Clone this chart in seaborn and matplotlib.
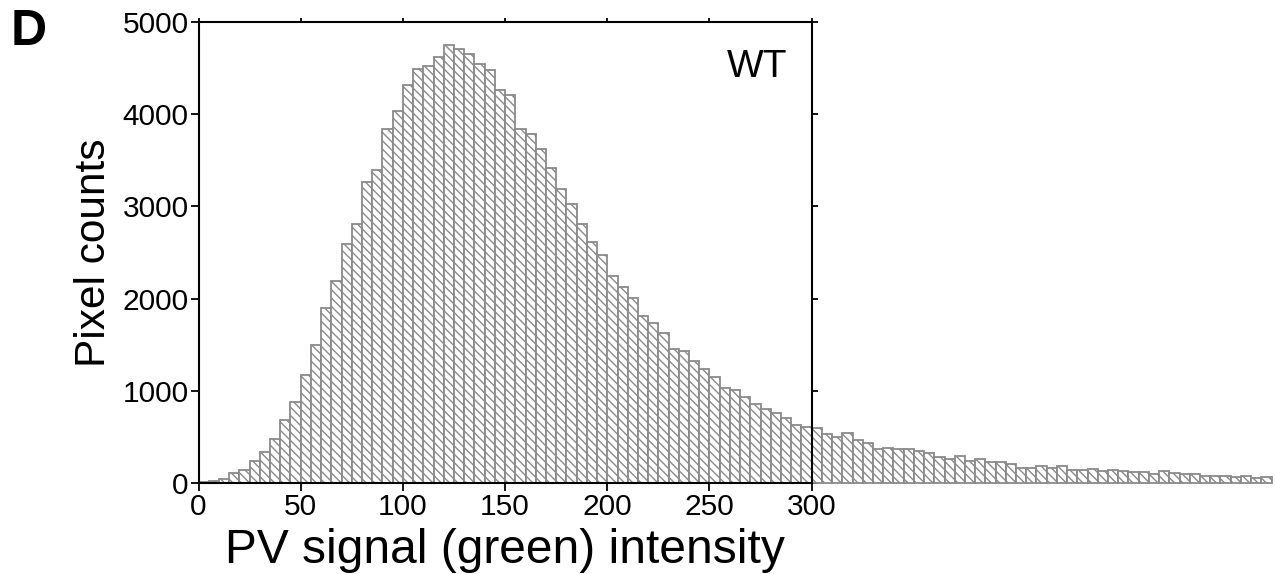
import numpy as np
import pandas as pd
import matplotlib
matplotlib.use("Agg")
import matplotlib.pyplot as plt
import seaborn as sns

# Bin left edges (intensity), bin width 5
bin_width = 5
counts = [
    15, 20, 47, 112, 145, 239, 340, 481, 680, 882,            # 0-45
    1175, 1497, 1895, 2194, 2589, 2806, 3265, 3391, 3836, 4035,  # 50-95
    4317, 4494, 4526, 4624, 4754, 4703, 4653, 4544, 4483, 4259,  # 100-145
    4205, 3836, 3789, 3619, 3413, 3192, 3029, 2812, 2617, 2476,  # 150-195
    2248, 2129, 2007, 1815, 1732, 1624, 1457, 1432, 1327, 1233,  # 200-245
    1153, 1030, 1005, 936, 853, 799, 756, 709, 626, 611,         # 250-295
    593, 537, 500, 539, 466, 430, 372, 383, 365, 365,            # 300-345
    343, 325, 278, 260, 296, 242, 260, 231, 224, 210,            # 350-395
    166, 163, 188, 166, 181, 145, 141, 155, 130, 137,            # 400-445
    127, 123, 119, 94, 127, 105, 101, 94, 72, 76,                # 450-495
    80, 69, 80, 58, 65,                                          # 500-520
]
bin_left = [i * bin_width for i in range(len(counts))]
bin_center = [b + bin_width / 2 for b in bin_left]
bin_edges = bin_left + [bin_left[-1] + bin_width]

x_ticks = [0, 50, 100, 150, 200, 250, 300]
y_ticks = [0, 1000, 2000, 3000, 4000, 5000]

df = pd.DataFrame({"intensity": bin_center, "count": counts})

sns.set_theme(style="ticks")
plt.rcParams["font.family"] = ["Liberation Sans", "DejaVu Sans"]
plt.rcParams["hatch.linewidth"] = 1.0
plt.rcParams["text.color"] = "black"
plt.rcParams["axes.labelcolor"] = "black"
plt.rcParams["xtick.color"] = "black"
plt.rcParams["ytick.color"] = "black"

fig = plt.figure(figsize=(12.75, 5.74), dpi=100)
ax = fig.add_axes([0.1557, 0.1585, 0.4809, 0.8031])

sns.histplot(data=df, x="intensity", weights="count", bins=bin_edges,
             ax=ax, stat="count", element="bars", fill=True,
             color="white", edgecolor="#8a8a8a", linewidth=1.3, alpha=1.0)
for p in ax.patches:
    p.set_hatch("\\\\\\\\")
    p.set_facecolor("white")
    p.set_edgecolor("#8a8a8a")
    p.set_clip_on(False)

ax.set_xlim(0, 300)
ax.set_ylim(0, 5000)
ax.set_xticks(x_ticks)
ax.set_yticks(y_ticks)
ax.set_xticklabels([str(t) for t in x_ticks])
ax.set_yticklabels([str(t) for t in y_ticks])

for s in ["left", "right", "top", "bottom"]:
    ax.spines[s].set_visible(True)
    ax.spines[s].set_color("black")
    ax.spines[s].set_linewidth(1.5)
    ax.spines[s].set_zorder(5)

ax.tick_params(axis="both", which="major", direction="out", length=6, width=1.3,
               labelsize=21.5, colors="black", labelcolor="black", pad=1)
ax.tick_params(top=True, right=True, labeltop=False, labelright=False)
for t in ax.xaxis.get_major_ticks():
    t.tick2line.set_markersize(3)
for t in ax.yaxis.get_major_ticks():
    t.tick2line.set_markersize(4)

ax.set_xlabel("PV signal (green) intensity", fontsize=34.5, labelpad=5,
              color="black")
ax.set_ylabel("Pixel counts", fontsize=30.5, labelpad=6, color="black")

ax.text(0.960, 0.881, "WT", transform=ax.transAxes, fontsize=28,
        ha="right", va="baseline", color="black")
fig.text(0.008, 0.985, "D", fontsize=36, fontweight="bold", ha="left",
         va="top", color="black")

fig.savefig("out.png", dpi=100)
